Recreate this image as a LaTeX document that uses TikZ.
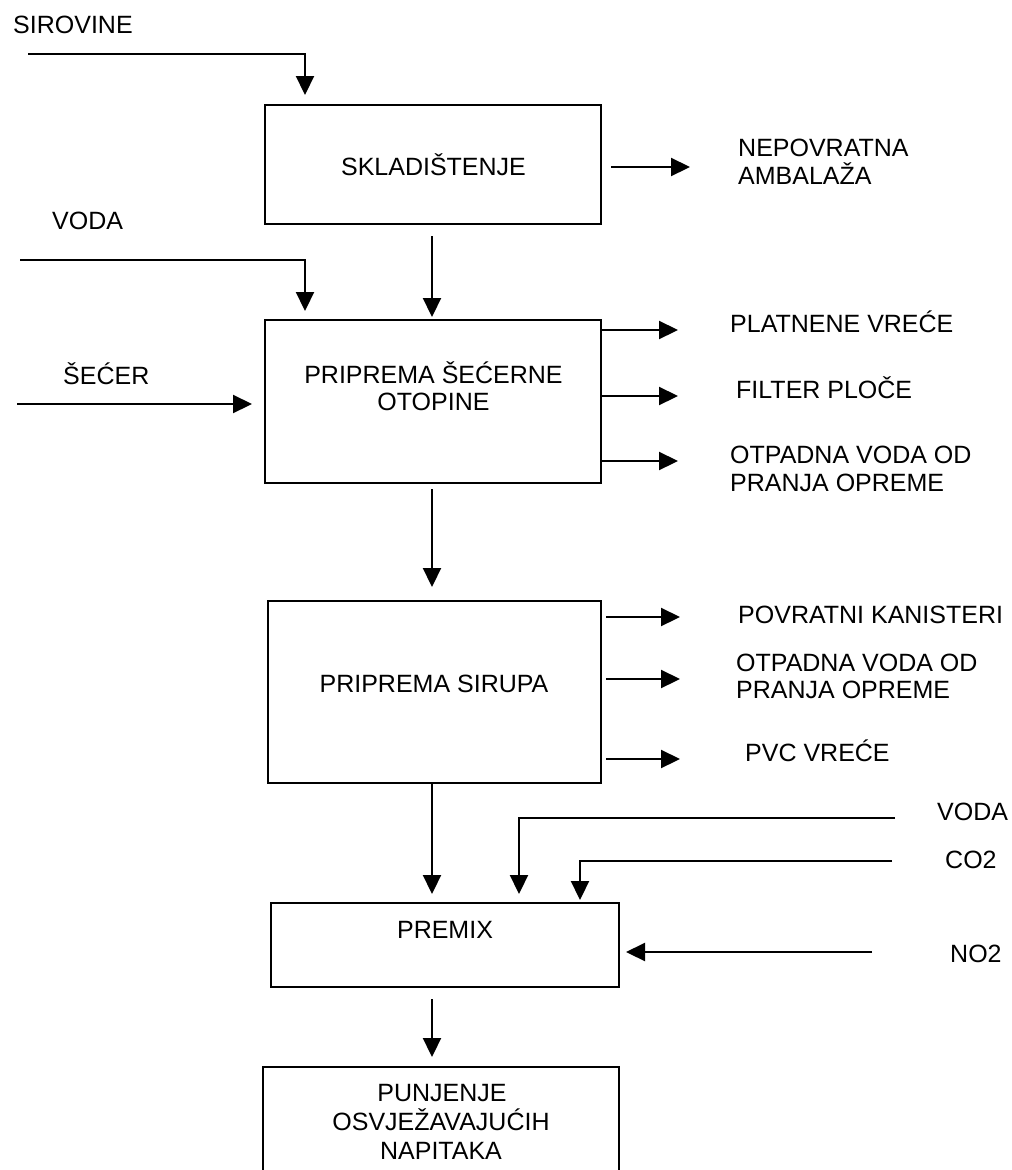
\documentclass[tikz,border=0pt]{standalone}
\usepackage{fontspec}
\setmainfont{Liberation Sans}
\usetikzlibrary{arrows.meta}

\begin{document}
\begin{tikzpicture}[x=1pt,y=-1pt,
  every node/.style={font=\fontsize{25}{29}\selectfont, inner sep=0pt},
  box/.style={draw, line width=2pt, rectangle},
  lbl/.style={anchor=west, text height=17.9pt, text depth=0pt},
  ctr/.style={text height=17.9pt, text depth=0pt},
  flow/.style={line width=2.2pt, -{Triangle[length=19pt,width=18pt]}}
]
% page frame
\clip (0,0) rectangle (1012,1170);
\fill[white] (0,0) rectangle (1012,1170);

% process boxes
\node[box, minimum width=336pt, minimum height=119pt] (b1) at (433,164.5) {};
\node[box, minimum width=336pt, minimum height=163pt] (b2) at (433,401.5) {};
\node[box, minimum width=333pt, minimum height=182pt] (b3) at (434.5,692) {};
\node[box, minimum width=348pt, minimum height=84pt]  (b4) at (445,945) {};
\node[box, minimum width=356pt, minimum height=123pt] (b5) at (441,1128.5) {};

% box titles
\node[ctr] (t1)  at (433.5,167)   {SKLADIŠTENJE};
\node[ctr] (t2a) at (433.5,375)   {PRIPREMA ŠEĆERNE};
\node[ctr] (t2b) at (433.5,401.5) {OTOPINE};
\node[ctr] (t3)  at (434,683.5)   {PRIPREMA SIRUPA};
\node[ctr] (t4)  at (445,930)     {PREMIX};
\node[ctr] (t5a) at (442,1093)    {PUNJENJE};
\node[ctr] (t5b) at (441,1122)    {OSVJEŽAVAJUĆIH};
\node[ctr] (t5c) at (441,1151)    {NAPITAKA};

% main flow
\coordinate (spine) at (432,0);
\draw[flow, shorten <=11pt, shorten >=2pt]  (b1.south -| spine) -- (b2.north -| spine);
\draw[flow, shorten <=5pt,  shorten >=13pt] (b2.south -| spine) -- (b3.north -| spine);
\draw[flow, shorten >=8pt]                  (b3.south -| spine) -- (b4.north -| spine);
\draw[flow, shorten <=11pt, shorten >=9pt]  (b4.south -| spine) -- (b5.north -| spine);

% inputs
\coordinate (inX) at (305,0);
\coordinate (sirIn) at (28,54);
\draw[flow, shorten >=9pt] (sirIn) -| (b1.north -| inX);
\coordinate (vodIn) at (20,260);
\draw[flow, shorten >=8pt] (vodIn) -| (b2.north -| inX);
\coordinate (secIn) at (17,404);
\draw[flow, shorten >=12pt] (secIn) -- (secIn -| b2.west);

\coordinate (vX) at (519,0);
\coordinate (vodIn2) at (895,818);
\draw[flow, shorten >=8pt] (vodIn2) -| (b4.north -| vX);
\coordinate (cX) at (580,0);
\coordinate (co2In) at (892,861);
\draw[flow, shorten >=2pt] (co2In) -| (b4.north -| cX);
\coordinate (no2In) at (872,952);
\draw[flow, shorten >=6pt] (no2In) -- (no2In -| b4.east);

% outputs
\coordinate (o1) at (690,167);
\draw[flow, shorten <=9pt] (b1.east |- o1) -- (o1);
\coordinate (o2a) at (678,330);
\coordinate (o2b) at (678,396);
\coordinate (o2c) at (678,461);
\draw[flow] (b2.east |- o2a) -- (o2a);
\draw[flow] (b2.east |- o2b) -- (o2b);
\draw[flow] (b2.east |- o2c) -- (o2c);
\coordinate (o3a) at (680,617);
\coordinate (o3b) at (680,679);
\coordinate (o3c) at (680,759);
\draw[flow, shorten <=4pt] (b3.east |- o3a) -- (o3a);
\draw[flow, shorten <=4pt] (b3.east |- o3b) -- (o3b);
\draw[flow, shorten <=4pt] (b3.east |- o3c) -- (o3c);

% stream labels
\node[lbl] (tSir)   at (13,25)    {SIROVINE};
\node[lbl] (tVoda)  at (52,221)   {VODA};
\node[lbl] (tSec)   at (63,376)   {ŠEĆER};
\node[lbl] (tNep1)  at (738,148)  {NEPOVRATNA};
\node[lbl] (tNep2)  at (738,176)  {AMBALAŽA};
\node[lbl] (tPlat)  at (730,323.5){PLATNENE VREĆE};
\node[lbl] (tFilt)  at (736,390)  {FILTER PLOČE};
\node[lbl] (tOtp1)  at (730,455)  {OTPADNA VODA OD};
\node[lbl] (tOtp2)  at (730,483)  {PRANJA OPREME};
\node[lbl] (tPov)   at (738,615)  {POVRATNI KANISTERI};
\node[lbl] (tOtp3)  at (736,662.5){OTPADNA VODA OD};
\node[lbl] (tOtp4)  at (736,689.5){PRANJA OPREME};
\node[lbl] (tPvc)   at (745,753)  {PVC VREĆE};
\node[lbl] (tVoda2) at (937,812)  {VODA};
\node[lbl] (tCo2)   at (945,860)  {CO2};
\node[lbl] (tNo2)   at (950,954)  {NO2};
\end{tikzpicture}
\end{document}
